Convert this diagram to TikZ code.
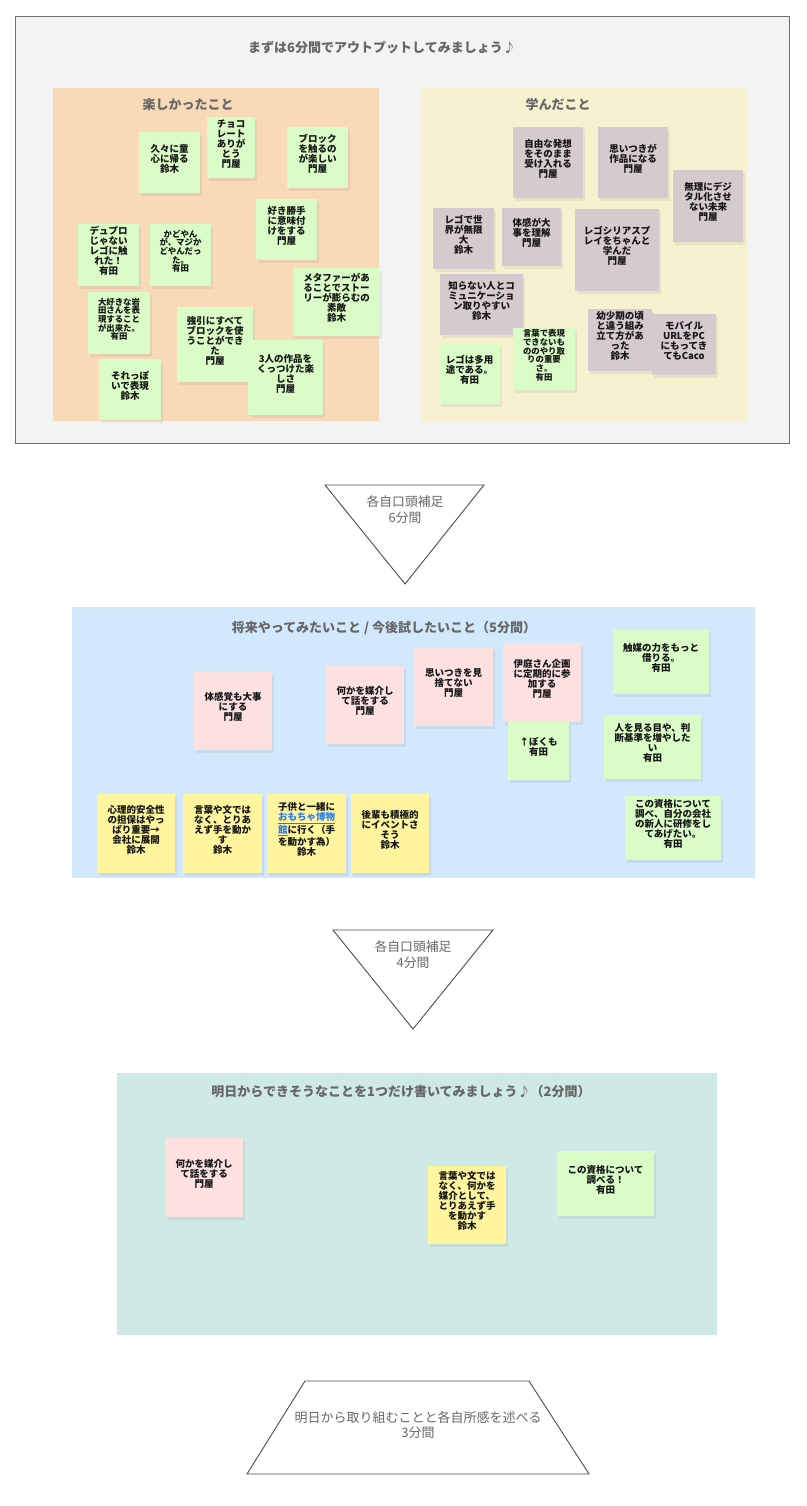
\documentclass[tikz,border=0pt]{standalone}
\usepackage{fontspec}
\newfontfamily\jp{Noto Sans CJK JP}
\usetikzlibrary{fit,shadows}
\definecolor{framebg}{HTML}{F3F3F3}
\definecolor{framedraw}{HTML}{6E6E6E}
\definecolor{orangep}{HTML}{F8D9B8}
\definecolor{yellowp}{HTML}{F6F2D0}
\definecolor{bluep}{HTML}{D2E8FC}
\definecolor{tealp}{HTML}{CFE9E5}
\definecolor{sgreen}{HTML}{DAFCC6}
\definecolor{smauve}{HTML}{D6CAD1}
\definecolor{spink}{HTML}{FDE1E1}
\definecolor{syellow}{HTML}{FFF59F}
\definecolor{titlegray}{HTML}{666666}
\definecolor{linkblue}{HTML}{2B7DE9}
\definecolor{stext}{HTML}{151515}
\newcommand\stk[8][]{\node[stk,fill=#3,fit={(#4,#5)(#6,#7)},#1] (#2) {#8};}
\begin{document}
\begin{tikzpicture}[x=1pt,y=-1pt,
  stk/.style={inner sep=0pt, align=center, text=stext,
    font=\jp\bfseries\fontsize{9.5}{10}\selectfont,
    drop shadow={opacity=0.13, shadow xshift=2pt, shadow yshift=-3pt}},
  smallfont/.style={font=\jp\bfseries\fontsize{8.4}{8.7}\selectfont},
  midfont/.style={font=\jp\bfseries\fontsize{8.6}{9.6}\selectfont},
  panel/.style={inner sep=0pt, draw=none},
  ptitle/.style={text=titlegray, font=\jp\bfseries\fontsize{13}{15}\selectfont, inner sep=0pt},
  shapetext/.style={text=titlegray, align=center, font=\jp\fontsize{12.8}{15.5}\selectfont, inner sep=0pt},
  outline/.style={draw=black!70, line width=0.9pt, line join=miter}]
\useasboundingbox (0,0) rectangle (806,1506);
\fill[white] (0,0) rectangle (806,1506);

% ---------- top frame ----------
\node[panel, draw=framedraw, line width=1pt, fill=framebg, fit={(15,17)(789,443)}] (frame) {};
\node[ptitle] (ftitle) at (382,48) {まずは6分間でアウトプットしてみましょう♪};
\node[panel, fill=orangep, fit={(53,88)(379,421)}] (pfun) {};
\node[panel, fill=yellowp, fit={(421,88)(747,421)}] (plearn) {};
\node[ptitle] (tfun) at (188,105) {楽しかったこと};
\node[ptitle] (tlearn) at (558,105) {学んだこと};

% left stickies
\stk{s1}{sgreen}{139}{132}{200}{193}{久々に童\\心に帰る\\鈴木}
\stk{s2}{sgreen}{207}{117}{255}{178}{チョコ\\レート\\ありが\\とう\\門屋}
\stk{s3}{sgreen}{287}{127}{348}{188}{ブロック\\を触るの\\が楽しい\\門屋}
\stk{s4}{sgreen}{256}{199}{317}{260}{好き勝手\\に意味付\\けをする\\門屋}
\stk{s5}{sgreen}{78}{224}{139}{286}{デュプロ\\じゃない\\レゴに触\\れた！\\有田}
\stk[smallfont]{s6}{sgreen}{150}{224}{211}{286}{かどやん\\が、マジか\\どやんだっ\\た。\\有田}
\stk{s7}{sgreen}{293}{268}{380}{336}{メタファーがあ\\ることでストー\\リーが膨らむの\\素敵\\鈴木}
\stk[smallfont]{s8}{sgreen}{88}{292}{150}{354}{大好きな岩\\田さんを表\\現すること\\が出来た。\\有田}
\stk{s9}{sgreen}{177}{307}{253}{382}{強引にすべて\\ブロックを使\\うことができ\\た\\門屋}
\stk{s10}{sgreen}{99}{359}{161}{420}{それっぽ\\いで表現\\鈴木}
\stk{s11}{sgreen}{248}{340}{323}{415}{3人の作品を\\くっつけた楽\\しさ\\門屋}

% right stickies
\stk{r1}{smauve}{513}{127}{583}{198}{自由な発想\\をそのまま\\受け入れる\\門屋}
\stk{r2}{smauve}{598}{127}{668}{198}{思いつきが\\作品になる\\門屋}
\stk{r3}{smauve}{673}{170}{743}{242}{無理にデジ\\タル化させ\\ない未来\\門屋}
\stk{r4}{smauve}{433}{208}{494}{269}{レゴで世\\界が無限\\大\\鈴木}
\stk{r5}{smauve}{502}{208}{561}{266}{体感が大\\事を理解\\門屋}
\stk{r6}{smauve}{575}{209}{659}{291}{レゴシリアスプ\\レイをちゃんと\\学んだ\\門屋}
\stk{r7}{smauve}{440}{274}{523}{335}{知らない人とコ\\ミュニケーショ\\ン取りやすい\\鈴木}
\stk{r8}{sgreen}{439}{343}{500}{404}{レゴは多用\\途である。\\有田}
\stk[smallfont]{r9}{sgreen}{513}{328}{575}{390}{言葉で表現\\できないも\\ののやり取\\りの重要\\さ。\\有田}
\stk{r10}{smauve}{588}{309}{652}{371}{幼少期の頃\\と違う組み\\立て方があ\\った\\鈴木}
\stk{r11}{smauve}{652}{314}{716}{375}{モバイル\\URLをPC\\にもってき\\てもCaco}

% ---------- triangle 1 ----------
\coordinate (t1a) at (325,485);
\coordinate (t1b) at (484,485);
\coordinate (t1c) at (405,584);
\draw[outline] (t1a) -- (t1b) -- (t1c) -- cycle;
\node[shapetext] (t1text) at (405,509.5) {各自口頭補足\\6分間};

% ---------- middle panel ----------
\node[panel, fill=bluep, fit={(72,607)(755,878)}] (pfuture) {};
\node[ptitle] (tfuture) at (384,628) {将来やってみたいこと / 今後試したいこと（5分間）};
\stk{m1}{spink}{194}{672}{272}{750}{体感覚も大事\\にする\\門屋}
\stk{m2}{spink}{326}{666}{404}{744}{何かを媒介し\\て話をする\\門屋}
\stk{m3}{spink}{414}{647}{493}{726}{思いつきを見\\捨てない\\門屋}
\stk{m4}{spink}{503}{643}{581}{722}{伊庭さん企画\\に定期的に参\\加する\\門屋}
\stk{m5}{sgreen}{508}{722}{569}{780}{↑ぼくも\\有田}
\stk{m6}{sgreen}{613}{630}{709}{694}{触媒の力をもっと\\借りる。\\有田}
\stk{m7}{sgreen}{604}{715}{701}{779}{人を見る目や、判\\断基準を増やした\\い\\有田}
\stk{m8}{sgreen}{625}{796}{721}{860}{この資格について\\調べ、自分の会社\\の新人に研修をし\\てあげたい。\\有田}
\stk{m9}{syellow}{97}{794}{175}{873}{心理的安全性\\の担保はやっ\\ぱり重要→\\会社に展開\\鈴木}
\stk{m10}{syellow}{183}{794}{262}{873}{言葉や文では\\なく、とりあ\\えず手を動か\\す\\鈴木}
\stk{m11}{syellow}{267}{794}{346}{873}{子供と一緒に\\{\color{linkblue}\underline{おもちゃ博物}}\\{\color{linkblue}\underline{館}}に行く（手\\を動かす為）\\鈴木}
\stk{m12}{syellow}{351}{794}{429}{873}{後輩も積極的\\にイベントさ\\そう\\鈴木}

% ---------- triangle 2 ----------
\coordinate (t2a) at (333,930);
\coordinate (t2b) at (493,930);
\coordinate (t2c) at (413,1029);
\draw[outline] (t2a) -- (t2b) -- (t2c) -- cycle;
\node[shapetext] (t2text) at (413,954.5) {各自口頭補足\\4分間};

% ---------- bottom panel ----------
\node[panel, fill=tealp, fit={(117,1073)(717,1335)}] (ptomorrow) {};
\node[ptitle] (ttomorrow) at (401,1092) {明日からできそうなことを1つだけ書いてみましょう♪（2分間）};
\stk{b1}{spink}{165}{1138}{243}{1217}{何かを媒介し\\て話をする\\門屋}
\stk{b2}{syellow}{428}{1166}{506}{1244}{言葉や文では\\なく、何かを\\媒介として、\\とりあえず手\\を動かす\\鈴木}
\stk{b3}{sgreen}{557}{1151}{654}{1216}{この資格について\\調べる！\\有田}

% ---------- trapezoid ----------
\coordinate (za) at (305,1381);
\coordinate (zb) at (529,1381);
\coordinate (zc) at (589,1474);
\coordinate (zd) at (247,1474);
\draw[outline] (za) -- (zb) -- (zc) -- (zd) -- cycle;
\node[shapetext, font=\jp\fontsize{13}{14.5}\selectfont] (ztext) at (418,1425) {明日から取り組むことと各自所感を述べる\\3分間};
\end{tikzpicture}
\end{document}
